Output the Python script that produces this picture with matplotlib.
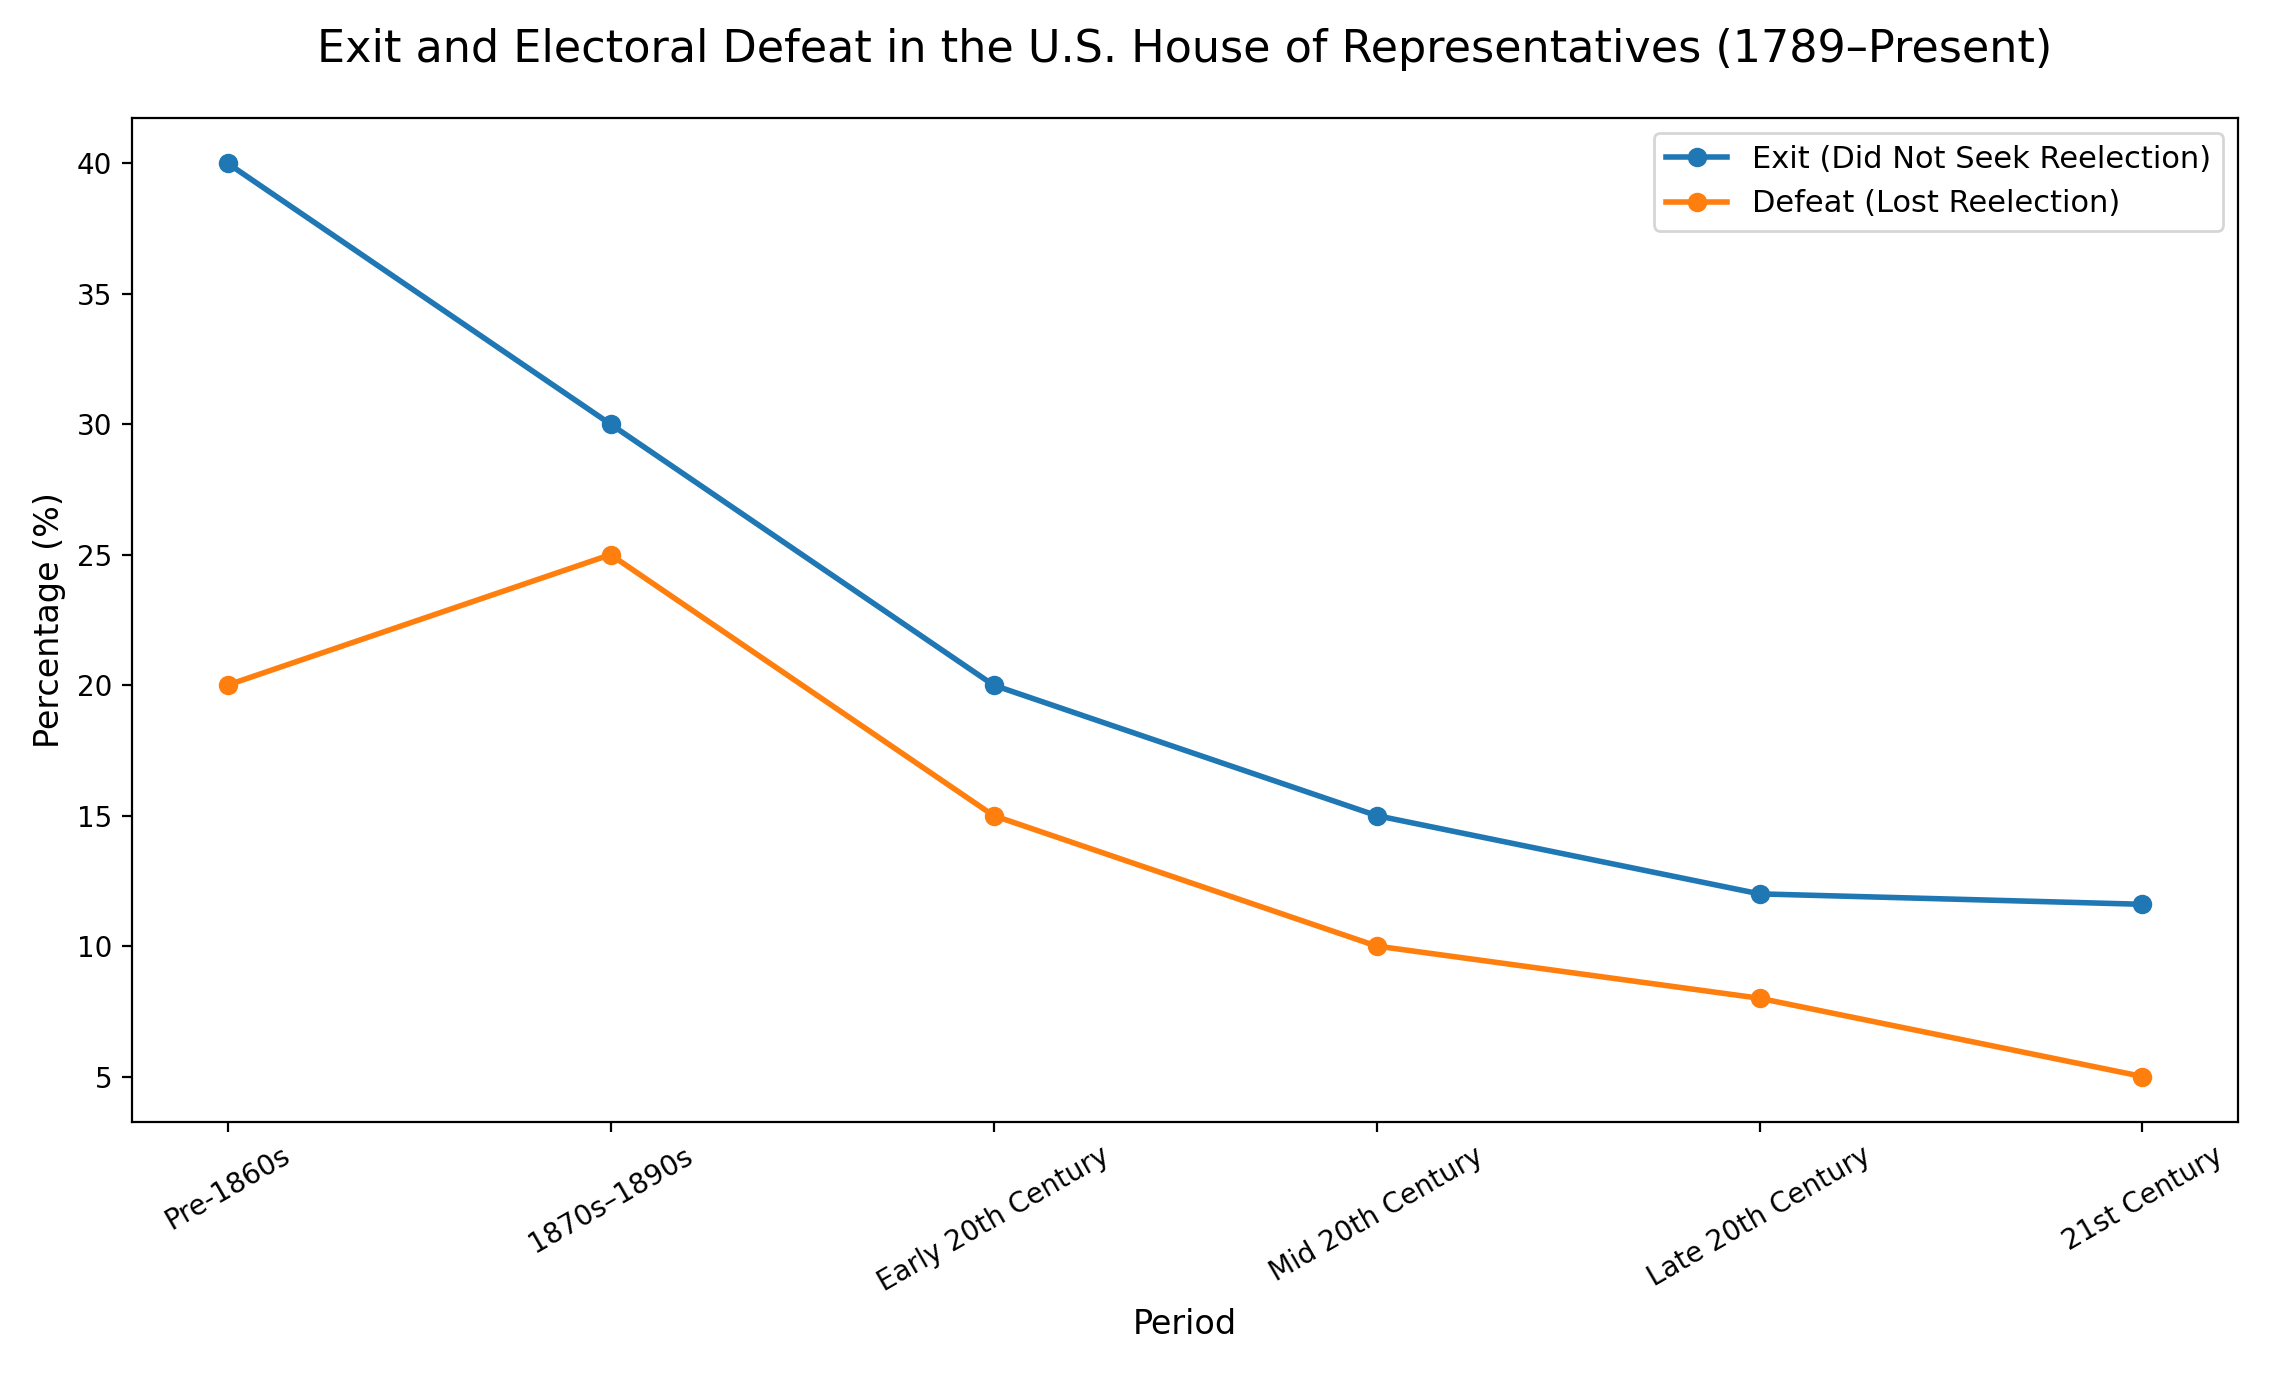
import matplotlib

matplotlib.use("Agg")
import matplotlib.pyplot as plt

periods = ["Pre-1860s", "1870s\u20131890s", "Early 20th Century",
           "Mid 20th Century", "Late 20th Century", "21st Century"]
exit_pct = [40, 30, 20, 15, 12, 11.6]
defeat_pct = [20, 25, 15, 10, 8, 5]

fig, ax = plt.subplots(figsize=(11.365, 6.87))
ax.plot(periods, exit_pct, marker="o", linewidth=2, color="#1f77b4",
        label="Exit (Did Not Seek Reelection)")
ax.plot(periods, defeat_pct, marker="o", linewidth=2, color="#ff7f0e",
        label="Defeat (Lost Reelection)")
ax.set_title("Exit and Electoral Defeat in the U.S. House of Representatives (1789\u2013Present)",
             fontsize=16, pad=20)
ax.set_xlabel("Period", fontsize=12)
ax.set_ylabel("Percentage (%)", fontsize=12)
plt.xticks(rotation=30)
ax.legend(loc="upper right", fontsize=11)
fig.tight_layout()
fig.savefig("out.png", dpi=200)
